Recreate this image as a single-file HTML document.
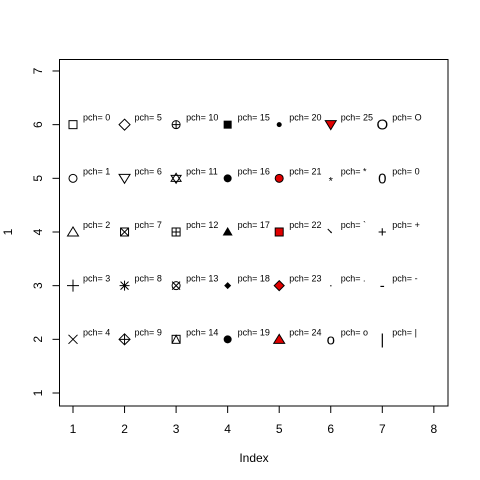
<!DOCTYPE html>
<html><head><meta charset="utf-8"><style>
body{margin:0;background:#fff}
svg{display:block;font-family:"Liberation Sans",Arial,sans-serif}
</style></head><body>
<svg id="c" width="480" height="480" viewBox="0 0 480 480" xmlns="http://www.w3.org/2000/svg">
<rect width="480" height="480" fill="#fff"/>
</svg>
<script>
const xTicks=[1,2,3,4,5,6,7,8];
const yTicks=[1,2,3,4,5,6,7];
const pchCodes=[0,1,2,3,4,5,6,7,8,9,10,11,12,13,14,15,16,17,18,19,20,21,22,23,24,25,"*",".",".","o","O","0","+","-","|"];
const pchLabels=["0","1","2","3","4","5","6","7","8","9","10","11","12","13","14","15","16","17","18","19","20","21","22","23","24","25","*","`",".","o","O","0","+","-","|"];
const ptX=[1,1,1,1,1,2,2,2,2,2,3,3,3,3,3,4,4,4,4,4,5,5,5,5,5,6,6,6,6,6,7,7,7,7,7];
const ptY=[6,5,4,3,2,6,5,4,3,2,6,5,4,3,2,6,5,4,3,2,6,5,4,3,2,6,5,4,3,2,6,5,4,3,2];
const NS="http://www.w3.org/2000/svg";
const svg=document.getElementById('c');
const L=59.5,R=448,T=59.5,B=406;
const sx=v=>73+(v-1)*51.55;
const sy=v=>393-(v-1)*53.67;
function mk(tag,at,parent){const e=document.createElementNS(NS,tag);for(const k in at)e.setAttribute(k,at[k]);(parent||svg).appendChild(e);return e;}
const box=mk('rect',{x:L,y:T,width:R-L,height:B-T,fill:'none',stroke:'#000','stroke-width':1});


xTicks.forEach(v=>{
 const t=mk('line',{x1:sx(v),x2:sx(v),y1:B,y2:B+7,stroke:'#000'});
 
 
 const l=mk('text',{x:sx(v),y:B+27,'font-size':12,'text-anchor':'middle'});
 
 
 l.textContent=v;
});
yTicks.forEach(v=>{
 const t=mk('line',{x1:L-7,x2:L,y1:sy(v),y2:sy(v),stroke:'#000'});
 
 
 const l=mk('text',{x:0,y:0,'font-size':12,'text-anchor':'middle',transform:`translate(42,${sy(v)}) rotate(-90)`});
 
 
 l.textContent=v;
});
const xt=mk('text',{x:254,y:462,'font-size':12,'text-anchor':'middle'});


xt.textContent='Index';
const yt=mk('text',{x:0,y:0,'font-size':12,'text-anchor':'middle',transform:`translate(12,${sy(4)}) rotate(-90)`});


yt.textContent='1';
function sym(p,x,y,g){
 const s=4,st={stroke:'#000','stroke-width':1,fill:'none'};
 const o=(a)=>Object.assign({},st,a);
 const red='#e00000';
 switch(p){
 case 0:mk('rect',o({x:x-s,y:y-s,width:2*s,height:2*s}),g);break;
 case 1:mk('circle',o({cx:x,cy:y,r:s}),g);break;
 case 2:mk('polygon',o({points:`${x},${y-5} ${x-5.5},${y+4} ${x+5.5},${y+4}`}),g);break;
 case 3:mk('path',o({d:`M${x-6},${y}H${x+6}M${x},${y-6}V${y+6}`}),g);break;
 case 4:mk('path',o({d:`M${x-4.5},${y-4.5}L${x+4.5},${y+4.5}M${x-4.5},${y+4.5}L${x+4.5},${y-4.5}`}),g);break;
 case 5:mk('polygon',o({points:`${x},${y-5.5} ${x+5.5},${y} ${x},${y+5.5} ${x-5.5},${y}`}),g);break;
 case 6:mk('polygon',o({points:`${x},${y+5} ${x-5.5},${y-4} ${x+5.5},${y-4}`}),g);break;
 case 7:mk('rect',o({x:x-s,y:y-s,width:2*s,height:2*s}),g);mk('path',o({d:`M${x-s},${y-s}L${x+s},${y+s}M${x-s},${y+s}L${x+s},${y-s}`}),g);break;
 case 8:mk('path',o({d:`M${x-5},${y}H${x+5}M${x},${y-5}V${y+5}M${x-4},${y-4}L${x+4},${y+4}M${x-4},${y+4}L${x+4},${y-4}`}),g);break;
 case 9:mk('polygon',o({points:`${x},${y-5.5} ${x+5.5},${y} ${x},${y+5.5} ${x-5.5},${y}`}),g);mk('path',o({d:`M${x-5.5},${y}H${x+5.5}M${x},${y-5.5}V${y+5.5}`}),g);break;
 case 10:mk('circle',o({cx:x,cy:y,r:s}),g);mk('path',o({d:`M${x-s},${y}H${x+s}M${x},${y-s}V${y+s}`}),g);break;
 case 11:mk('polygon',o({points:`${x},${y-5} ${x-5},${y+3} ${x+5},${y+3}`}),g);mk('polygon',o({points:`${x},${y+5} ${x-5},${y-3} ${x+5},${y-3}`}),g);break;
 case 12:mk('rect',o({x:x-s,y:y-s,width:2*s,height:2*s}),g);mk('path',o({d:`M${x-s},${y}H${x+s}M${x},${y-s}V${y+s}`}),g);break;
 case 13:mk('circle',o({cx:x,cy:y,r:s}),g);mk('path',o({d:`M${x-s},${y-s}L${x+s},${y+s}M${x-s},${y+s}L${x+s},${y-s}`}),g);break;
 case 14:mk('rect',o({x:x-s,y:y-s,width:2*s,height:2*s}),g);mk('polyline',o({points:`${x-s},${y+s} ${x},${y-s} ${x+s},${y+s}`}),g);break;
 case 15:mk('rect',{x:x-s,y:y-s,width:2*s,height:2*s,fill:'#000'},g);break;
 case 16:mk('circle',{cx:x,cy:y,r:4,fill:'#000'},g);break;
 case 17:mk('polygon',{points:`${x},${y-5} ${x-5},${y+3.5} ${x+5},${y+3.5}`,fill:'#000'},g);break;
 case 18:mk('polygon',{points:`${x},${y-3.5} ${x+3.5},${y} ${x},${y+3.5} ${x-3.5},${y}`,fill:'#000'},g);break;
 case 19:mk('circle',{cx:x,cy:y,r:4,fill:'#000'},g);break;
 case 20:mk('circle',{cx:x,cy:y,r:2.5,fill:'#000'},g);break;
 case 21:mk('circle',o({cx:x,cy:y,r:4,fill:red}),g);break;
 case 22:mk('rect',o({x:x-s,y:y-s,width:2*s,height:2*s,fill:red}),g);break;
 case 23:mk('polygon',o({points:`${x},${y-5} ${x+5},${y} ${x},${y+5} ${x-5},${y}`,fill:red}),g);break;
 case 24:mk('polygon',o({points:`${x},${y-5} ${x-5.5},${y+4} ${x+5.5},${y+4}`,fill:red}),g);break;
 case 25:mk('polygon',o({points:`${x},${y+5} ${x-5.5},${y-4} ${x+5.5},${y-4}`,fill:red}),g);break;
 default:{
  if(p==='.'){mk('rect',{x:x-0.5,y:y-0.5,width:1.2,height:1.2,fill:'#000'},g);break;}
  const t=mk('text',{x:x,y:y+5,'font-size':p==='*'?11:15,'text-anchor':'middle'},g);
  if(p==='*')t.setAttribute('y',y+6);
  t.textContent=p;
 }}
}
pchCodes.forEach((p,i)=>{
 const x=sx(ptX[i]),y=sy(ptY[i]);
 const g=mk('g',{});
 
 
 sym(p,x,y,g);
 if(i===27){mk('path',{d:`M${x-3},${y-3}L${x+1},${y+1}`,stroke:'#000'},g);}
 const t=mk('text',{x:x+10,y:y-4,'font-size':9});
 
 
 t.textContent='pch= '+pchLabels[i];
});
</script>
</body></html>
